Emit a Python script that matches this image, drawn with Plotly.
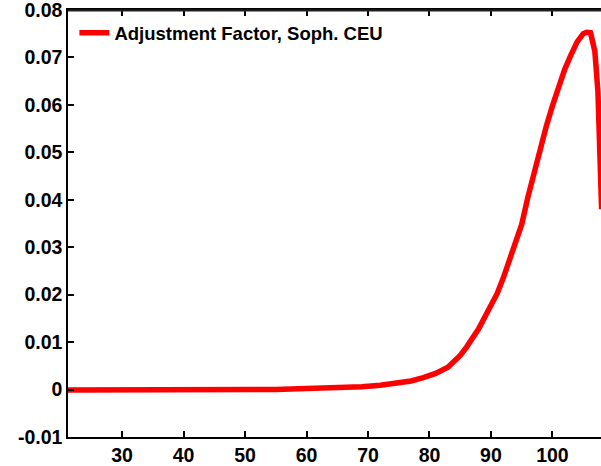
import plotly.graph_objects as go

ages = [21, 25, 30, 35, 40, 45, 50, 55, 60, 63, 66, 69, 72, 75, 77, 79, 81, 83, 84, 85,
        86, 87, 88, 89, 90, 91, 92, 93, 94, 95, 96, 97, 98, 99, 100, 101, 102, 103,
        104, 105, 105.6, 106.2, 106.9, 107.4, 107.7, 108]
adj_factor = [-0.0001, -0.0001, -0.0001, -0.0001, -0.0001, -0.0001, -0.0001, 0.0, 0.0002,
              0.0003, 0.0004, 0.0006, 0.0009, 0.0014, 0.0018, 0.0025, 0.0034, 0.0047, 0.0058,
              0.0072, 0.0089, 0.0108, 0.0128, 0.0153, 0.0175, 0.0202, 0.0235, 0.0273, 0.0310,
              0.0348, 0.0405, 0.0458, 0.0505, 0.0555, 0.0598, 0.0640, 0.0675, 0.0705, 0.0732,
              0.0750, 0.0753, 0.0752, 0.0713, 0.0628, 0.0472, 0.0380]

series_name = "Adjustment Factor, Soph. CEU"
x_ticks = [30, 40, 50, 60, 70, 80, 90, 100]
y_ticks = [-0.01, 0, 0.01, 0.02, 0.03, 0.04, 0.05, 0.06, 0.07, 0.08]
y_tick_labels = ["-0.01", "0", "0.01", "0.02", "0.03", "0.04", "0.05", "0.06", "0.07", "0.08"]
x_range = [21.2, 107.9]
y_range = [-0.01, 0.08]

fig = go.Figure()
fig.add_trace(go.Scatter(x=ages, y=adj_factor, mode="lines", name=series_name,
                         line=dict(color="#ff0000", width=5.5)))

# top frame line (backup for the mirrored axis line)
fig.add_shape(type="line", xref="paper", yref="paper", x0=0, x1=1, y0=0.999, y1=0.999,
              line=dict(color="#222222", width=2), layer="above")

font_family = "Liberation Sans, Arial, sans-serif"
fig.update_layout(
    width=601, height=466,
    margin=dict(l=68, r=0, t=10, b=29),
    paper_bgcolor="white", plot_bgcolor="white",
    showlegend=True,
    legend=dict(x=0.012, y=0.99, xanchor="left", yanchor="top",
                bgcolor="rgba(0,0,0,0)", borderwidth=0,
                font=dict(family=font_family, size=18.5, color="black", weight="bold")),
    xaxis=dict(range=x_range, tickvals=x_ticks, ticks="inside", ticklen=6, tickwidth=1.5,
               tickcolor="black", showline=True, linecolor="black", linewidth=2,
               mirror="ticks", showgrid=False, zeroline=False,
               tickfont=dict(family=font_family, size=19.5, color="black", weight="bold")),
    yaxis=dict(range=y_range, tickvals=y_ticks, ticktext=y_tick_labels,
               ticks="inside", ticklen=6, tickwidth=1.5, tickcolor="black", showline=True,
               linecolor="black", linewidth=1.5, mirror=False, showgrid=False,
               zeroline=False, ticklabeloverflow="allow",
               tickfont=dict(family=font_family, size=19.5, color="black", weight="bold")),
)

fig.write_html("out.html", config={"displayModeBar": False},
               post_script="document.body.style.margin='0';document.body.style.overflow='hidden';")
